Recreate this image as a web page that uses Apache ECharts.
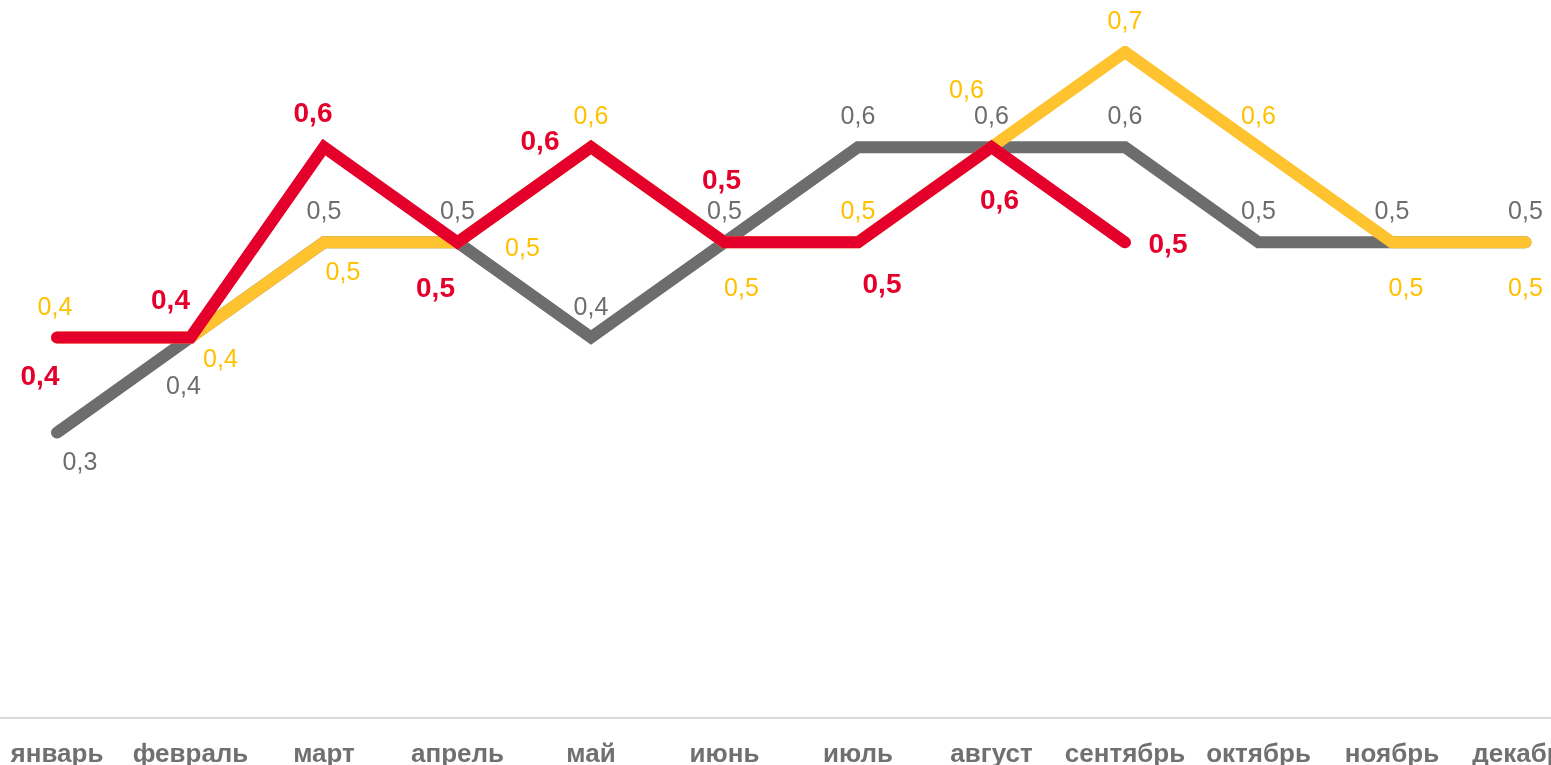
<!DOCTYPE html>
<html>
<head>
<meta charset="utf-8">
<script src="https://cdn.jsdelivr.net/npm/echarts@6/dist/echarts.min.js"></script>
<style>
  html, body { margin: 0; padding: 0; background: #fff; }
  #chart { width: 1551px; height: 765px; }
</style>
</head>
<body>
<div id="chart"></div>
<script>
// месяцы
var months = ['январь', 'февраль', 'март', 'апрель', 'май', 'июнь', 'июль', 'август', 'сентябрь', 'октябрь', 'ноябрь', 'декабрь'];

// значения серий
var grayValues = [0.3, 0.4, 0.5, 0.5, 0.4, 0.5, 0.6, 0.6, 0.6, 0.5, 0.5, 0.5];
var yellowValues = [0.4, 0.4, 0.5, 0.5, 0.6, 0.5, 0.5, 0.6, 0.7, 0.6, 0.5, 0.5];
var redValues = [0.4, 0.4, 0.6, 0.5, 0.6, 0.5, 0.5, 0.6, 0.5];

// смещения подписей относительно точки
var grayLabelOffset = [[23, 31], [-7, 50], [0, -30], [0, -30], [0, -29], [0, -30], [0, -30], [0, -30], [0, -30], [0, -30], [0, -30], [0, -30]];
var yellowLabelOffset = [[-2, -29], [30, 23], [19, 31], [65, 7], [0, -30], [17, 47], [0, -30], [-25, -56], [0, -30], [0, -30], [14, 47], [0, 47]];
var redLabelOffset = [[-17, 40], [-20, -36], [-11, -33], [-22, 47], [-51, -5], [-3, -61], [24, 43], [8, 54], [43, 3]];

function fmt(p) {
    return p.value.toFixed(1).replace('.', ',');
}

function buildData(values, offsets) {
    return values.map(function (v, i) {
        return { value: v, label: { offset: offsets[i] } };
    });
}

function makeSeries(name, values, offsets, color, textColor, bold, size) {
    return {
        name: name,
        type: 'line',
        data: buildData(values, offsets),
        symbol: 'circle',
        symbolSize: 2,
        showSymbol: true,
        itemStyle: { color: 'rgba(0,0,0,0)', borderWidth: 0 },
        lineStyle: { color: color, width: 12, cap: 'round', join: 'miter' },
        label: {
            show: true,
            position: 'inside',
            formatter: fmt,
            color: textColor,
            fontFamily: 'Liberation Sans, Arial, sans-serif',
            fontWeight: bold ? 'bold' : 'normal',
            fontSize: size
        },
        emphasis: { disabled: true },
        animation: false
    };
}

var chart = echarts.init(document.getElementById('chart'));
chart.setOption({
    backgroundColor: '#ffffff',
    grid: { left: -9.75, top: 52, width: 1602, bottom: 47, outerBoundsMode: 'none' },
    xAxis: {
        type: 'category',
        data: months,
        boundaryGap: true,
        axisLine: { lineStyle: { color: '#d9d9d9', width: 2 } },
        axisTick: { show: false },
        axisLabel: {
            interval: 0,
            hideOverlap: false,
            margin: 24,
            color: '#707070',
            fontFamily: 'Liberation Sans, Arial, sans-serif',
            fontWeight: 'bold',
            fontSize: 26
        }
    },
    yAxis: {
        type: 'value',
        min: 0,
        max: 0.7,
        show: false,
        splitLine: { show: false }
    },
    series: [
        makeSeries('gray', grayValues, grayLabelOffset, '#6d6d6d', '#6d6d6d', false, 25),
        makeSeries('yellow', yellowValues, yellowLabelOffset, '#ffc32f', '#ffc000', false, 25),
        makeSeries('red', redValues, redLabelOffset, '#e4002b', '#e4002b', true, 28)
    ]
});
</script>
</body>
</html>
